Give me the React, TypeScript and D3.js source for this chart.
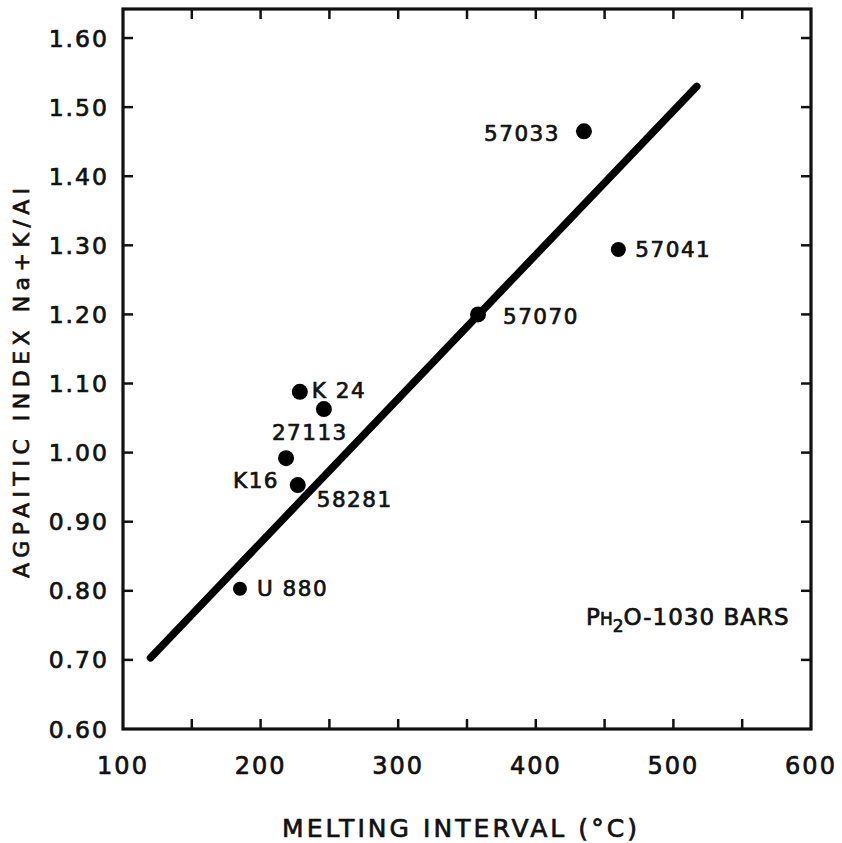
import React from "react";
import * as d3 from "d3";

const sampleNames = ["57033", "57041", "57070", "K24", "27113", "K16", "58281", "U880"];
const sampleLabels = ["57033", "57041", "57070", "K 24", "27113", "K16", "58281", "U 880"];
const meltingInterval = [435, 460, 358, 228.5, 246, 218.5, 227, 185];
const agpaiticIndex = [1.465, 1.294, 1.2, 1.088, 1.063, 0.992, 0.953, 0.803];
// label placement relative to the point (pixels) and anchor
const labelDx = [-24, 17, 25, 12, -52, -53, 19, 17];
const labelDy = [10, 8, 10, 6, 31, 30, 22, 7];
const labelAnchor = ["end", "start", "start", "start", "start", "start", "start", "start"];
const dotRadius = [8, 7.5, 8, 8, 8, 8, 8, 7];

const fitX = [120, 517];
const fitY = [0.703, 1.53];

const xTickValues = [100, 200, 300, 400, 500, 600];
const xMinorTicks = [150, 200, 250, 300, 350, 400, 450, 500, 550];
const yTickValues = [0.6, 0.7, 0.8, 0.9, 1.0, 1.1, 1.2, 1.3, 1.4, 1.5, 1.6];
const yInnerTicks = [0.7, 0.8, 0.9, 1.0, 1.1, 1.2, 1.3, 1.4, 1.5, 1.6];

const W = 842;
const H = 843;
const left = 123;
const right = 811;
const top = 9;
const bottom = 729;

const FONT = "'DejaVu Sans', sans-serif";
const INK = "#111";

export default function App() {
  const x = d3.scaleLinear().domain([100, 600]).range([left, right]);
  const y = d3.scaleLinear().domain([0.6, 1.642]).range([bottom, top]);
  const line = d3
    .line<number>()
    .x((d) => x(fitX[d]))
    .y((d) => y(fitY[d]));
  const tickLen = 10;
  const textStroke = { stroke: INK, strokeWidth: 0.7 };

  return (
    <svg
      width={W}
      height={H}
      style={{ position: "absolute", left: 0, top: 0, background: "#fff" }}
      fontFamily={FONT}
    >
      <rect x={0} y={0} width={W} height={H} fill="#fff" />
      {/* frame */}
      <rect
        x={left}
        y={top}
        width={right - left}
        height={bottom - top}
        fill="none"
        stroke={INK}
        strokeWidth={3.2}
      />
      {xMinorTicks.map((t) => (
        <g key={"xt" + t}>
          <line x1={x(t)} x2={x(t)} y1={bottom} y2={bottom - tickLen} stroke={INK} strokeWidth={2.5} />
          <line x1={x(t)} x2={x(t)} y1={top} y2={top + tickLen} stroke={INK} strokeWidth={2.5} />
        </g>
      ))}
      {yInnerTicks.map((t) => (
        <g key={"yt" + t}>
          <line x1={left} x2={left + tickLen} y1={y(t)} y2={y(t)} stroke={INK} strokeWidth={2.5} />
          <line x1={right} x2={right - tickLen} y1={y(t)} y2={y(t)} stroke={INK} strokeWidth={2.5} />
        </g>
      ))}
      {xTickValues.map((t) => (
        <text
          key={"xl" + t}
          x={x(t)}
          y={bottom + 45}
          textAnchor="middle"
          fontSize={24}
          letterSpacing={2}
          fill={INK}
          {...textStroke}
        >
          {String(t)}
        </text>
      ))}
      {yTickValues.map((t) => (
        <text
          key={"yl" + t}
          x={left - 14}
          y={y(t) + 8.5}
          textAnchor="end"
          fontSize={23.5}
          letterSpacing={2}
          fill={INK}
          {...textStroke}
        >
          {d3.format(".2f")(t)}
        </text>
      ))}
      <path d={line([0, 1]) || ""} stroke="#000" strokeWidth={7.5} fill="none" strokeLinecap="round" />
      {sampleNames.map((name, i) => (
        <g key={name}>
          <circle cx={x(meltingInterval[i])} cy={y(agpaiticIndex[i])} r={dotRadius[i]} fill="#000" />
          <text
            x={x(meltingInterval[i]) + labelDx[i]}
            y={y(agpaiticIndex[i]) + labelDy[i]}
            textAnchor={labelAnchor[i] as any}
            fontSize={21.5}
            letterSpacing={1.5}
            fill={INK}
            {...textStroke}
          >
            {sampleLabels[i]}
          </text>
        </g>
      ))}
      <text x={586} y={625} fill={INK} {...textStroke} fontSize={23}>
        <tspan>P</tspan>
        <tspan fontSize={17}>H</tspan>
        <tspan fontSize={17} dy={7}>2</tspan>
        <tspan dy={-7} textLength={165} lengthAdjust="spacing">O-1030 BARS</tspan>
      </text>
      <text
        x={(282 + 637) / 2}
        y={837}
        textAnchor="middle"
        fontSize={25}
        textLength={355}
        lengthAdjust="spacing"
        fill={INK}
        {...textStroke}
      >
        MELTING  INTERVAL (°C)
      </text>
      <text
        transform={`translate(29, ${(188 + 578) / 2}) rotate(-90)`}
        textAnchor="middle"
        fontSize={22}
        textLength={390}
        lengthAdjust="spacing"
        fill={INK}
        {...textStroke}
      >
        AGPAITIC INDEX Na+K/Al
      </text>
    </svg>
  );
}
